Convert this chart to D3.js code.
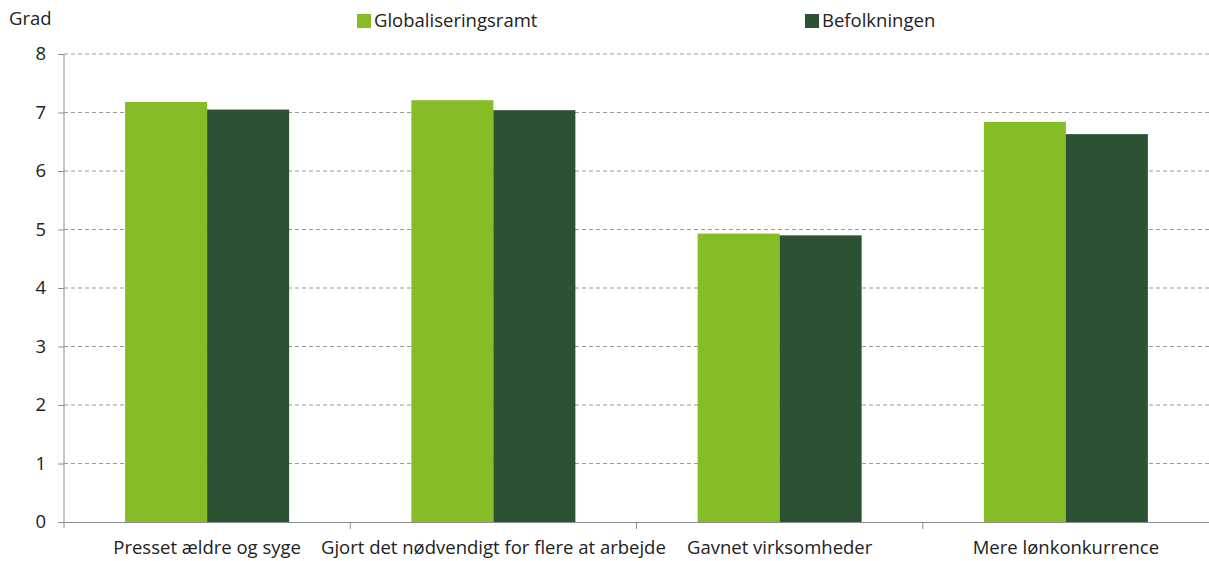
<!DOCTYPE html>
<html>
<head>
<meta charset="utf-8">
<script src="https://cdn.jsdelivr.net/npm/d3@7"></script>
<style>
  body { margin: 0; background: #fff; }
  svg { display: block; font-family: "Open Sans", sans-serif; }
</style>
</head>
<body>
<div id="container"></div>
<script>
// chart data
let categories = ["Presset ældre og syge", "Gjort det nødvendigt for flere at arbejde", "Gavnet virksomheder", "Mere lønkonkurrence"];
let seriesNames = ["Globaliseringsramt", "Befolkningen"];
let globaliseringsramt = [7.18, 7.21, 4.93, 6.84];
let befolkningen = [7.05, 7.04, 4.90, 6.63];
let yTicks = [0, 1, 2, 3, 4, 5, 6, 7, 8];
let colors = ["#86bc25", "#2c5234"];

let w = 1209;
let h = 561;
let plotLeft = 64, plotRight = 1209, plotTop = 54, plotBottom = 522;
let fontSize = 18.5;

let viz = d3.select("#container")
  .append("svg")
    .attr("width", w)
    .attr("height", h);

let xScale = d3.scaleBand()
  .domain(categories)
  .range([plotLeft, plotRight]);

let yScale = d3.scaleLinear()
  .domain([0, 8])
  .range([plotBottom, plotTop]);

// inner scale for the two bars in each group
let barW = 82;
let xInner = d3.scaleBand()
  .domain(seriesNames)
  .range([0, barW * 2]);

// gridlines
viz.append("g")
  .selectAll("line")
  .data(yTicks.filter(d => d > 0))
  .enter()
  .append("line")
    .attr("x1", plotLeft)
    .attr("x2", plotRight)
    .attr("y1", d => yScale(d))
    .attr("y2", d => yScale(d))
    .attr("stroke", "#9a9a9a")
    .attr("stroke-dasharray", "4,3")
    .attr("stroke-width", 1);

// bars
let rows = categories.map((c, i) => ({cat: c, values: [globaliseringsramt[i], befolkningen[i]]}));
let groups = viz.append("g")
  .selectAll(".datapoint")
  .data(rows)
  .enter()
  .append("g")
    .classed("datapoint", true)
    .attr("transform", d => "translate(" + (xScale(d.cat) + (xScale.bandwidth() - barW * 2) / 2) + ",0)");

groups.selectAll("rect")
  .data(d => d.values.map((v, j) => ({name: seriesNames[j], value: v, j: j})))
  .enter()
  .append("rect")
    .attr("x", d => xInner(d.name))
    .attr("width", xInner.bandwidth())
    .attr("y", d => yScale(d.value))
    .attr("height", d => yScale(0) - yScale(d.value))
    .attr("fill", d => colors[d.j]);

// y axis
let yAxis = d3.axisLeft(yScale)
  .tickValues(yTicks)
  .tickSize(6)
  .tickPadding(12)
  .tickFormat(d3.format("d"));
let yAxisGroup = viz.append("g")
  .attr("transform", "translate(" + plotLeft + ",0)")
  .call(yAxis);
yAxisGroup.select(".domain").attr("stroke", "#8c8c8c").attr("d", "M0," + plotTop + "V" + (plotBottom + 6));
yAxisGroup.selectAll(".tick line").attr("stroke", "#8c8c8c");
yAxisGroup.selectAll("text")
  .attr("font-size", fontSize)
  .attr("fill", "#222")
  .style("font-family", "Open Sans");

// x axis
let xAxis = d3.axisBottom(xScale).tickSize(0).tickPadding(19);
let xAxisGroup = viz.append("g")
  .attr("transform", "translate(0," + plotBottom + ")")
  .call(xAxis);
xAxisGroup.select(".domain").attr("stroke", "#8c8c8c");
xAxisGroup.selectAll("text")
  .attr("font-size", fontSize)
  .attr("fill", "#222")
  .style("font-family", "Open Sans");

// separator ticks between categories
viz.append("g")
  .selectAll("line")
  .data(categories.slice(1))
  .enter()
  .append("line")
    .attr("x1", d => xScale(d))
    .attr("x2", d => xScale(d))
    .attr("y1", plotBottom)
    .attr("y2", plotBottom + 7)
    .attr("stroke", "#8c8c8c");

// y title
viz.append("text")
  .attr("x", 9)
  .attr("y", 25)
  .attr("font-size", fontSize)
  .attr("fill", "#222")
  .text("Grad");

// legend
let legendX = [357, 805];
let legend = viz.append("g")
  .selectAll("g")
  .data(seriesNames)
  .enter()
  .append("g")
    .attr("transform", (d, i) => "translate(" + legendX[i] + ",14)");
legend.append("rect")
  .attr("width", 14)
  .attr("height", 14)
  .attr("fill", (d, i) => colors[i]);
legend.append("text")
  .attr("x", 17)
  .attr("y", 13)
  .attr("font-size", fontSize)
  .attr("fill", "#222")
  .text(d => d);
</script>
</body>
</html>
